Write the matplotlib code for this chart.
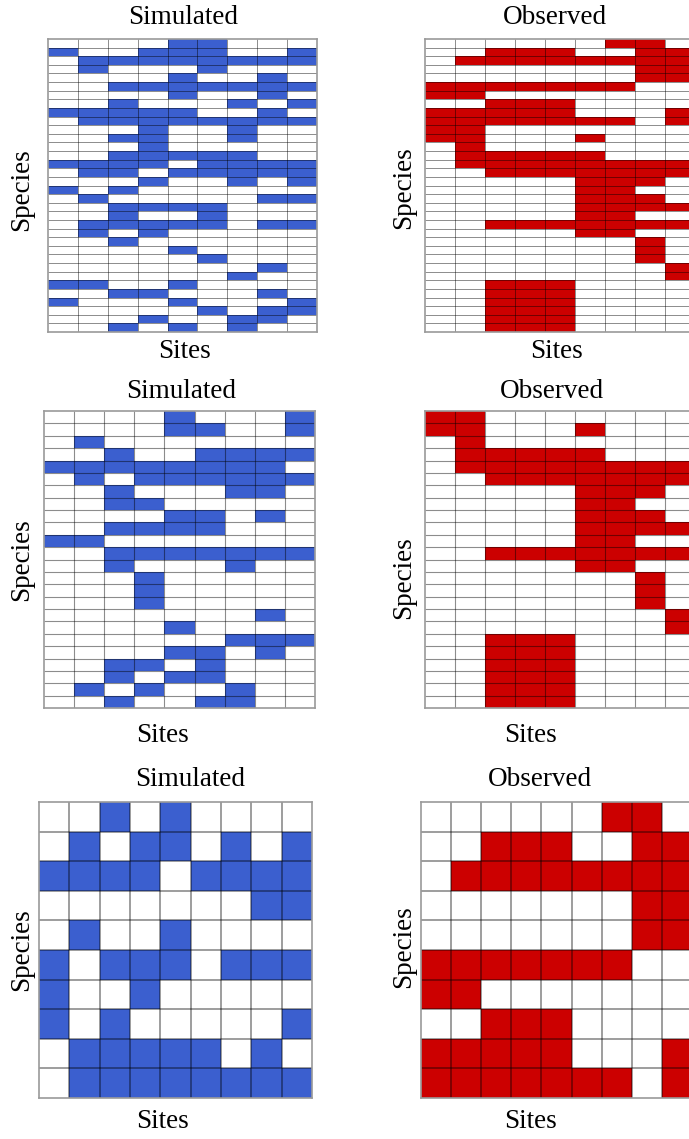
import numpy as np
import matplotlib
matplotlib.use('Agg')
import matplotlib.pyplot as plt
from matplotlib.colors import ListedColormap

# presence/absence matrices, one string per species (row), one digit per site
sim_top = [
    "000011000", "100111001", "011111111", "010001000", "000010010",
    "001111111", "000010010", "001000101", "111110010", "011111111",
    "000100100", "001100100", "000100000", "001111100", "111101111",
    "011011111", "000100101", "101000000", "010000011", "001111000",
    "001001000", "011111011", "010100000", "001000000", "000010000",
    "000001000", "000000010", "000000100", "110010000", "001100010",
    "100010001", "000001011", "000100110", "001010100",
]
obs_top = [
    "000000110", "001110011", "011111111", "000000011", "000000011",
    "111111100", "110000000", "001110000", "111110001", "111111101",
    "110000000", "110001000", "010000000", "011111000", "011111111",
    "001111111", "000001110", "000001100", "000001110", "000001111",
    "000001100", "001111111", "000001100", "000000010", "000000010",
    "000000010", "000000001", "000000001", "001110000", "001110000",
    "001110000", "001110000", "001110000", "001110000",
]
sim_mid = [
    "000010001", "000011001", "010000000", "001001111", "111111110",
    "010111111", "001000110", "001100000", "000011010", "001111000",
    "110000000", "001111111", "001000100", "000100000", "000100000",
    "000100000", "000000010", "000010000", "000000111", "000011010",
    "001101000", "001011000", "010100100", "001001100",
]
obs_mid = [
    "110000000", "110001000", "010000000", "011111000", "011111111",
    "001111111", "000001110", "000001100", "000001110", "000001111",
    "000001100", "001111111", "000001100", "000000010", "000000010",
    "000000010", "000000001", "000000001", "001110000", "001110000",
    "001110000", "001110000", "001110000", "001110000",
]
sim_bottom = [
    "001010000", "010110101", "111101111", "000000011", "010010000",
    "101110111", "100100000", "101000001", "011111010", "011111111",
]
obs_bottom = [
    "000000110", "001110011", "011111111", "000000011", "000000011",
    "111111100", "110000000", "001110000", "111110001", "111111101",
]

BLUE = '#3b5fcf'
RED = '#cc0000'
W, H = 689, 1139

plt.rcParams['font.family'] = ['Liberation Serif', 'DejaVu Serif']
fig = plt.figure(figsize=(W / 100, H / 100), dpi=100)


def to_matrix(rows):
    return np.array([[int(c) for c in r] for r in rows])


def px_text(x, y, s, size, rotation=0):
    fig.text(x / W, 1 - y / H, s, fontsize=size, rotation=rotation,
             ha='center', va='center')


def draw_panel(left, top, width, height, rows, color, lw):
    m = to_matrix(rows)
    nr, nc = m.shape
    ax = fig.add_axes([left / W, 1 - (top + height) / H, width / W, height / H])
    ax.pcolormesh(np.arange(nc + 1), np.arange(nr + 1), m,
                  cmap=ListedColormap(['white', color]), vmin=0, vmax=1)
    ax.vlines(np.arange(1, nc), 0, nr, color='black', alpha=0.45, lw=lw)
    ax.hlines(np.arange(1, nr), 0, nc, color='black', alpha=0.45, lw=lw)
    ax.set_xlim(0, nc)
    ax.set_ylim(nr, 0)
    ax.set_xticks([])
    ax.set_yticks([])
    for sp in ax.spines.values():
        sp.set_color('#9a9a9a')
        sp.set_linewidth(1.2)
    return ax


# top row
draw_panel(48, 39, 269, 293, sim_top, BLUE, 0.7)
draw_panel(425, 39, 270, 293, obs_top, RED, 0.7)
# middle row
draw_panel(44, 411, 271, 297, sim_mid, BLUE, 0.8)
draw_panel(425, 411, 270, 297, obs_mid, RED, 0.8)
# bottom row
draw_panel(39, 802, 273, 296, sim_bottom, BLUE, 1.2)
draw_panel(421, 802, 271, 296, obs_bottom, RED, 1.2)

title_size = 19.5
label_size = 19.5
for (xs, xo, y) in [(183, 555, 18), (181, 552, 391), (190, 540, 779)]:
    px_text(xs, y, 'Simulated', title_size)
    px_text(xo, y, 'Observed', title_size)

for (xs, xo, y) in [(185, 556, 352), (163, 530, 736), (162, 530, 1122)]:
    px_text(xs, y, 'Sites', label_size)
    px_text(xo, y, 'Sites', label_size)

for (xs, xo, ys, yo) in [(22, 404, 190, 188), (22, 404, 560, 578), (22, 404, 950, 947)]:
    px_text(xs, ys, 'Species', label_size, rotation=90)
    px_text(xo, yo, 'Species', label_size, rotation=90)

fig.savefig('out.png', dpi=100)
